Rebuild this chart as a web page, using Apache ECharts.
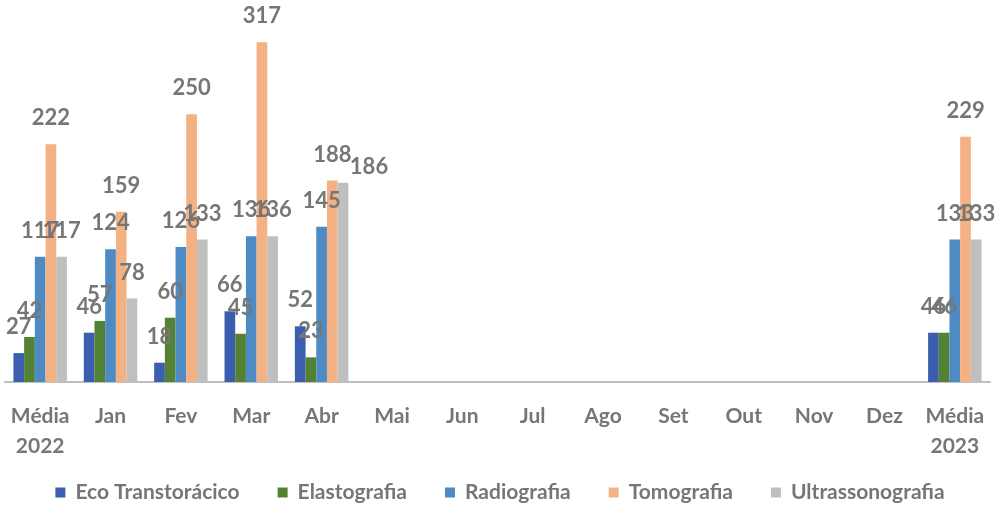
<!DOCTYPE html>
<html>
<head>
<meta charset="utf-8">
<script src="https://cdn.jsdelivr.net/npm/echarts@6/dist/echarts.min.js"></script>
<style>
  html, body { margin: 0; padding: 0; background: #ffffff; }
  #chart { width: 1000px; height: 508px; }
</style>
</head>
<body>
<div id="chart"></div>
<script>
// categorias do eixo x
const categories = ['Média\n2022', 'Jan', 'Fev', 'Mar', 'Abr', 'Mai', 'Jun', 'Jul', 'Ago', 'Set', 'Out', 'Nov', 'Dez', 'Média\n2023'];

// valores por exame (meses sem dados = null)
const ecoTranstoracico = [27, 46, 18, 66, 52, null, null, null, null, null, null, null, null, 46];
const elastografia     = [42, 57, 60, 45, 23, null, null, null, null, null, null, null, null, 46];
const radiografia      = [117, 124, 126, 136, 145, null, null, null, null, null, null, null, null, 133];
const tomografia       = [222, 159, 250, 317, 188, null, null, null, null, null, null, null, null, 229];
const ultrassonografia = [117, 78, 133, 136, 186, null, null, null, null, null, null, null, null, 133];

const seriesNames = ['Eco Transtorácico', 'Elastografia', 'Radiografia', 'Tomografia', 'Ultrassonografia'];
const seriesData = [ecoTranstoracico, elastografia, radiografia, tomografia, ultrassonografia];
const colors = ['#3B5FAE', '#548235', '#4E8AC3', '#F4B183', '#BFBFBF'];

const fontFamily = "Lato, 'Noto Sans', sans-serif";

const chart = echarts.init(document.getElementById('chart'));

// rótulo do 186 (Ultrassonografia, Abr) foi arrastado para o lado no original
function toItems(arr, seriesIdx) {
  return arr.map((v, j) => {
    if (seriesIdx === 4 && j === 4) {
      return { value: v, label: { offset: [26, 10] } };
    }
    return v;
  });
}

chart.setOption({
  animation: false,
  color: colors,
  textStyle: { fontFamily: fontFamily },
  grid: { left: 5, right: 10, top: 7, bottom: 126, containLabel: false },
  legend: {
    bottom: 0,
    left: 'center',
    itemWidth: 10,
    itemHeight: 10,
    itemGap: 38,
    icon: 'rect',
    textStyle: {
      color: '#767676',
      fontSize: 21,
      fontWeight: 'bold',
      fontFamily: fontFamily,
      padding: [0, 0, 0, 5]
    }
  },
  xAxis: {
    type: 'category',
    data: categories,
    axisLine: { lineStyle: { color: '#BFBFBF', width: 2 } },
    axisTick: { show: false },
    axisLabel: {
      color: '#767676',
      fontSize: 21,
      fontWeight: 'bold',
      fontFamily: fontFamily,
      lineHeight: 30,
      margin: 19,
      interval: 0
    }
  },
  yAxis: {
    type: 'value',
    min: 0,
    max: 350,
    show: false,
    splitLine: { show: false }
  },
  series: seriesNames.map((name, i) => ({
    name: name,
    type: 'bar',
    data: toItems(seriesData[i], i),
    barGap: '0%',
    barCategoryGap: '24%',
    label: {
      show: true,
      position: 'top',
      distance: 15,
      color: '#767676',
      fontSize: 22,
      fontWeight: 'bold',
      fontFamily: fontFamily
    }
  }))
});
</script>
</body>
</html>
